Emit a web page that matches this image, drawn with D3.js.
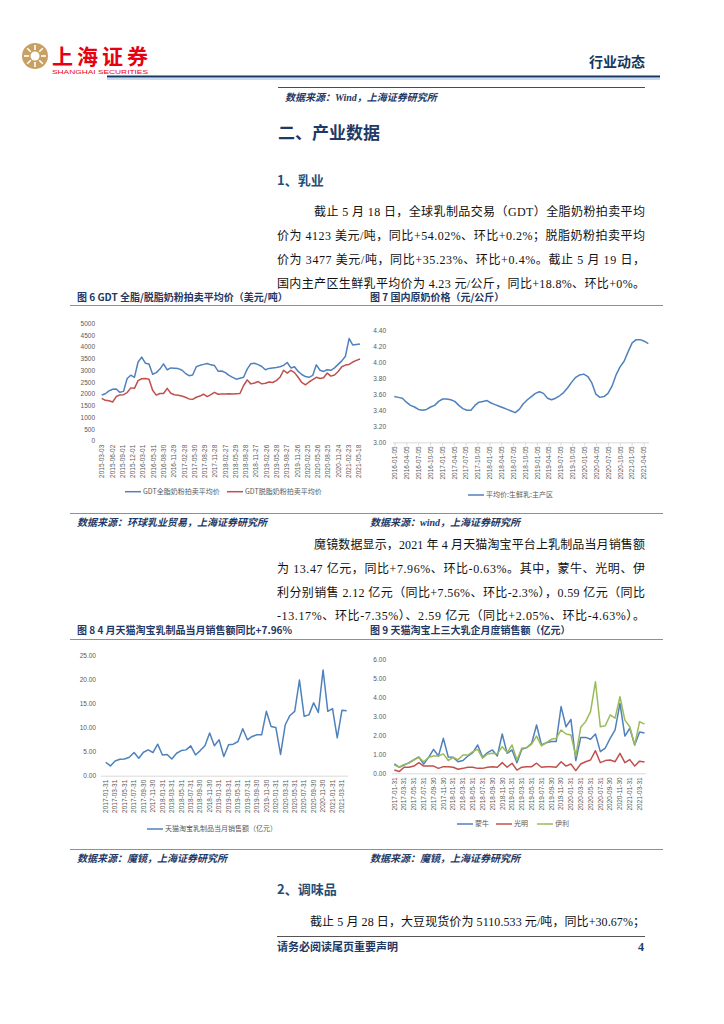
<!DOCTYPE html>
<html>
<head>
<meta charset="utf-8">
<script src="https://cdn.jsdelivr.net/npm/d3@7"></script>
<style>
  body { margin: 0; background: #fff; }
  svg { display: block; }
</style>
</head>
<body>
<script>
var width = 724;
var height = 1024;

// ---- data ----
var gdtLabels = ["2015-03-03", "2015-06-02", "2015-09-01", "2015-12-01", "2016-03-01", "2016-05-31",
    "2016-08-30", "2016-11-29", "2017-02-28", "2017-05-30", "2017-08-29", "2017-11-28", "2018-02-27",
    "2018-05-29", "2018-08-28", "2018-11-27", "2019-02-26", "2019-05-28", "2019-08-27", "2019-11-26",
    "2020-02-25", "2020-05-26", "2020-08-25", "2020-11-24", "2021-02-23", "2021-05-18"];
var gdtWhole = [1950, 2000, 2120, 2190, 2200, 2060, 2100, 2650, 2790, 2700, 3350, 3560, 3300, 3270, 2830,
    2900, 3050, 3270, 3020, 3100, 3090, 3070, 3010, 2870, 2770, 2800, 3150, 3210, 3250, 3290, 3230, 3200,
    2960, 2970, 2900, 2780, 2700, 2620, 2660, 2700, 3050, 3280, 3300, 3240, 3160, 3020, 3080, 3100, 3120,
    3150, 3210, 3330, 3100, 3150, 2950, 2820, 2730, 2700, 2780, 3230, 3000, 2950, 3020, 3000, 3100, 3250,
    3400, 3600, 4350, 4080, 4100, 4123];
var gdtSkim = [1800, 1720, 1700, 1650, 1880, 1950, 1960, 2050, 2250, 2230, 2560, 2640, 2650, 2620, 2150,
    1940, 2010, 2010, 2230, 2020, 1960, 1940, 1900, 1850, 1780, 1760, 1850, 1900, 1980, 1880, 1960, 2060,
    1980, 1990, 1990, 2000, 1990, 2000, 2010, 2350, 2590, 2420, 2460, 2520, 2420, 2450, 2500, 2480, 2560,
    2700, 3000, 2880, 3000, 2900, 2700, 2480, 2380, 2500, 2600, 2700, 2650, 2680, 2880, 2750, 2800, 2950,
    3150, 3220, 3250, 3350, 3420, 3477];

var milkLabels = ["2016-01-05", "2016-04-05", "2016-07-05", "2016-10-05", "2017-01-05", "2017-04-05",
    "2017-07-05", "2017-10-05", "2018-01-05", "2018-04-05", "2018-07-05", "2018-10-05", "2019-01-05",
    "2019-04-05", "2019-07-05", "2019-10-05", "2020-01-05", "2020-04-05", "2020-07-05", "2020-10-05",
    "2021-01-05", "2021-04-05"];
var milkPrice = [3.57, 3.56, 3.55, 3.50, 3.46, 3.44, 3.41, 3.40, 3.41, 3.44, 3.46, 3.51, 3.54, 3.54, 3.53,
    3.51, 3.46, 3.42, 3.40, 3.40, 3.46, 3.50, 3.51, 3.52, 3.49, 3.47, 3.45, 3.43, 3.41, 3.39, 3.37, 3.41,
    3.48, 3.53, 3.57, 3.61, 3.63, 3.61, 3.55, 3.53, 3.55, 3.58, 3.62, 3.68, 3.75, 3.81, 3.84, 3.85, 3.82,
    3.74, 3.60, 3.56, 3.57, 3.61, 3.70, 3.84, 3.94, 4.01, 4.13, 4.24, 4.28, 4.28, 4.26, 4.23];

var monthLabels = ["2017-01-31", "2017-03-31", "2017-05-31", "2017-07-31", "2017-09-30", "2017-11-30",
    "2018-01-31", "2018-03-31", "2018-05-31", "2018-07-31", "2018-09-30", "2018-11-30", "2019-01-31",
    "2019-03-31", "2019-05-31", "2019-07-31", "2019-09-30", "2019-11-30", "2020-01-31", "2020-03-31",
    "2020-05-31", "2020-07-31", "2020-09-30", "2020-11-30", "2021-01-31", "2021-03-31"];
var tmallTotal = [2.79, 2.02, 3.06, 3.40, 3.45, 3.83, 4.80, 3.62, 4.85, 5.35, 4.80, 6.53, 4.30, 4.40, 3.45,
    4.65, 5.20, 5.35, 6.19, 4.30, 5.20, 6.19, 8.83, 6.19, 7.44, 3.97, 6.40, 6.53, 7.08, 9.73, 7.44, 8.13,
    8.47, 8.47, 13.33, 10.20, 10.00, 4.40, 10.56, 12.48, 13.33, 19.80, 12.30, 12.60, 15.08, 13.10, 21.90,
    13.33, 13.90, 7.85, 13.56, 13.47];
var mengniu = [0.49, 0.32, 0.43, 0.56, 0.72, 0.86, 0.49, 0.84, 1.26, 0.91, 1.84, 0.86, 0.84, 0.61, 0.67,
    0.91, 1.09, 1.49, 0.84, 1.09, 1.23, 0.91, 2.07, 1.05, 1.23, 0.56, 1.26, 1.35, 1.58, 2.54, 1.49, 1.61,
    1.67, 1.67, 3.51, 2.45, 2.84, 0.67, 1.89, 1.89, 1.79, 2.07, 1.14, 1.33, 1.84, 2.28, 3.68, 1.96, 2.37,
    1.49, 2.17, 2.12];
var guangming = [0.17, 0.09, 0.32, 0.32, 0.38, 0.56, 0.38, 0.38, 0.38, 0.26, 0.35, 0.35, 0.32, 0.21, 0.26,
    0.32, 0.32, 0.26, 0.26, 0.32, 0.35, 0.32, 0.56, 0.32, 0.53, 0.17, 0.32, 0.35, 0.35, 0.53, 0.32, 0.35,
    0.35, 0.32, 0.61, 0.38, 0.49, 0.14, 0.49, 0.61, 0.70, 1.19, 0.56, 0.67, 0.70, 0.61, 1.05, 0.56, 0.72,
    0.38, 0.64, 0.59];
var yili = [0.44, 0.32, 0.47, 0.53, 0.70, 0.84, 0.61, 0.84, 0.91, 0.91, 1.02, 0.67, 0.84, 0.72, 0.96, 0.96,
    1.14, 1.26, 0.79, 1.02, 1.05, 1.02, 1.40, 1.09, 1.49, 0.70, 1.33, 1.35, 1.54, 1.96, 1.44, 1.61, 1.79,
    1.84, 2.28, 2.07, 2.02, 0.91, 2.42, 2.72, 3.25, 4.82, 2.45, 2.50, 3.07, 2.90, 4.03, 2.80, 2.45, 1.49,
    2.72, 2.59];

// ---- page ----
var navy = "#1F3864";
var sans = "'Noto Sans CJK SC', sans-serif";
var serif = "'Liberation Serif', 'Noto Sans CJK SC', serif";
var tickFont = "'Liberation Sans', 'Noto Sans CJK SC', sans-serif";

var svg = d3.select("body")
    .append("svg")
    .attr("width", width)
    .attr("height", height);

// logo
var logo = svg.append("g").attr("transform", "translate(35,56)");
logo.append("circle").attr("r", 13).attr("fill", "#C9A063");
logo.append("circle").attr("r", 4.5).attr("fill", "#fff");
d3.range(8).forEach(function (i) {
    var a = i * Math.PI / 4;
    logo.append("line")
        .attr("x1", Math.cos(a) * 6).attr("y1", Math.sin(a) * 6)
        .attr("x2", Math.cos(a) * 11).attr("y2", Math.sin(a) * 11)
        .attr("stroke", "#fff").attr("stroke-width", 1.6);
});
svg.append("text").attr("x", 52).attr("y", 64)
    .attr("font-family", sans).attr("font-weight", "bold").attr("font-size", 21)
    .attr("fill", "#E60012").attr("textLength", 96).text("上海证券");
svg.append("text").attr("x", 52).attr("y", 74)
    .attr("font-family", tickFont).attr("font-size", 6).attr("fill", "#E60012")
    .attr("textLength", 96).attr("lengthAdjust", "spacingAndGlyphs").text("SHANGHAI SECURITIES");

svg.append("text").attr("x", 645).attr("y", 67).attr("text-anchor", "end")
    .attr("font-family", sans).attr("font-size", 14).attr("font-weight", "bold")
    .attr("fill", "#17375E").text("行业动态");

svg.append("line").attr("x1", 107).attr("x2", 660).attr("y1", 76.5).attr("y2", 76.5)
    .attr("stroke", "#17375E").attr("stroke-width", 2);
svg.append("line").attr("x1", 107).attr("x2", 660).attr("y1", 79).attr("y2", 79)
    .attr("stroke", "#8DB3E2").attr("stroke-width", 1);
svg.append("line").attr("x1", 278).attr("x2", 645).attr("y1", 87.5).attr("y2", 87.5)
    .attr("stroke", "#FF0000").attr("stroke-width", 1);

function source(x, y, t) {
    svg.append("text").attr("x", x).attr("y", y)
        .attr("font-family", serif).attr("font-size", 10).attr("font-weight", "bold")
        .attr("font-style", "italic").attr("fill", navy).text(t);
}
source(285, 101, "数据来源：Wind，上海证券研究所");

svg.append("text").attr("x", 278).attr("y", 139)
    .attr("font-family", sans).attr("font-weight", "bold").attr("font-size", 17)
    .attr("fill", navy).text("二、产业数据");

function heading(y, t) {
    svg.append("text").attr("x", 277).attr("y", y)
        .attr("font-family", sans).attr("font-weight", "bold").attr("font-size", 13)
        .attr("fill", "#1F4E79").text(t);
}
heading(185, "1、乳业");
heading(894, "2、调味品");

function para(lines) {
    lines.forEach(function (l) {
        svg.append("text").attr("x", l[0]).attr("y", l[1])
            .attr("font-family", serif).attr("font-size", 12).attr("fill", "#111")
            .attr("textLength", 645 - l[0]).attr("lengthAdjust", "spacing")
            .text(l[2]);
    });
}
para([
    [314, 216, "截止 5 月 18 日，全球乳制品交易（GDT）全脂奶粉拍卖平均"],
    [277, 240, "价为 4123 美元/吨，同比+54.02%、环比+0.2%；脱脂奶粉拍卖平均"],
    [277, 264, "价为 3477 美元/吨，同比+35.23%、环比+0.4%。截止 5 月 19 日，"],
    [277, 287.5, "国内主产区生鲜乳平均价为 4.23 元/公斤，同比+18.8%、环比+0%。"]
]);
para([
    [314, 549, "魔镜数据显示，2021 年 4 月天猫淘宝平台上乳制品当月销售额"],
    [277, 573, "为 13.47 亿元，同比+7.96%、环比-0.63%。其中，蒙牛、光明、伊"],
    [277, 597, "利分别销售 2.12 亿元（同比+7.56%、环比-2.3%），0.59 亿元（同比"],
    [277, 620, "-13.17%、环比-7.35%）、2.59 亿元（同比+2.05%、环比-4.63%）。"]
]);
para([
    [310, 926, "截止 5 月 28 日，大豆现货价为 5110.533 元/吨，同比+30.67%；"]
]);

function title(x, y, t) {
    svg.append("text").attr("x", x).attr("y", y)
        .attr("font-family", sans).attr("font-size", 10).attr("font-weight", "bold")
        .attr("fill", navy).text(t);
}
function redRule(y) {
    svg.append("line").attr("x1", 70).attr("x2", 663).attr("y1", y).attr("y2", y)
        .attr("stroke", "#E46C6C").attr("stroke-width", 1);
}
title(77, 300.5, "图 6 GDT 全脂/脱脂奶粉拍卖平均价（美元/吨）");
title(370, 300.5, "图 7 国内原奶价格（元/公斤）");
redRule(305.5);
redRule(513.5);
source(77, 526, "数据来源：环球乳业贸易，上海证券研究所");
source(370, 526, "数据来源：wind，上海证券研究所");

title(77, 634, "图 8 4 月天猫淘宝乳制品当月销售额同比+7.96%");
title(370, 634, "图 9 天猫淘宝上三大乳企月度销售额（亿元）");
redRule(639.5);
redRule(849.5);
source(77, 862, "数据来源：魔镜，上海证券研究所");
source(370, 862, "数据来源：魔镜，上海证券研究所");

// footer
svg.append("line").attr("x1", 277).attr("x2", 645).attr("y1", 936.5).attr("y2", 936.5)
    .attr("stroke", "#555").attr("stroke-width", 1);
svg.append("text").attr("x", 277).attr("y", 951)
    .attr("font-family", sans).attr("font-size", 11).attr("font-weight", "bold")
    .attr("fill", navy).text("请务必阅读尾页重要声明");
svg.append("text").attr("x", 644).attr("y", 951).attr("text-anchor", "end")
    .attr("font-family", serif).attr("font-size", 12).attr("font-weight", "bold")
    .attr("fill", navy).text("4");

// ---- charts ----
function drawChart(c) {
    var g = svg.append("g");
    var n = c.series[0].values.length;
    var x = d3.scaleLinear().domain([0, n - 1]).range(c.xRange);
    var y = d3.scaleLinear().domain(c.yDomain).range(c.yRange);

    var yAxis = d3.axisLeft(y).tickValues(c.yTicks).tickFormat(d3.format(c.yFmt))
        .tickSize(0).tickPadding(0);
    g.append("g").attr("transform", "translate(" + c.labelRight + ",0)")
        .call(yAxis)
        .call(function (a) {
            a.select(".domain").remove();
            a.selectAll("text").attr("font-family", tickFont).attr("font-size", 6.5)
                .attr("fill", "#595959");
        });

    if (c.axisLine) {
        g.append("line").attr("x1", c.axisLine[0]).attr("x2", c.axisLine[1])
            .attr("y1", y(c.yDomain[0]) + 0.5).attr("y2", y(c.yDomain[0]) + 0.5)
            .attr("stroke", "#D9D9D9").attr("stroke-width", 1);
    }

    var xl = d3.scalePoint().domain(c.xLabels).range(c.labelRange);
    var labs = g.selectAll(".xl").data(c.xLabels).enter().append("g")
        .attr("transform", function (d) {
            return "translate(" + xl(d) + "," + (y(c.yDomain[0]) + 4) + ")";
        });
    if (c.ticks) {
        labs.append("line").attr("y1", -3.5).attr("y2", -1).attr("stroke", "#D9D9D9");
    }
    labs.append("text")
        .attr("transform", "rotate(-90)")
        .attr("text-anchor", "end")
        .attr("dy", "0.35em")
        .attr("font-family", tickFont).attr("font-size", 6.5).attr("fill", "#595959")
        .text(function (d) { return d; });

    var line = d3.line()
        .x(function (d, i) { return x(i); })
        .y(function (d) { return y(d); });
    c.series.forEach(function (s) {
        g.append("path").datum(s.values)
            .attr("fill", "none")
            .attr("stroke", s.color)
            .attr("stroke-width", 1.5)
            .attr("stroke-linejoin", "round")
            .attr("d", line);
    });

    c.legend.forEach(function (l) {
        g.append("line").attr("x1", l.x).attr("x2", l.x + 16)
            .attr("y1", c.legendY).attr("y2", c.legendY)
            .attr("stroke", l.color).attr("stroke-width", 1.5);
        g.append("text").attr("x", l.x + 18).attr("y", c.legendY).attr("dy", "0.35em")
            .attr("font-family", sans).attr("font-size", 7).attr("fill", "#595959")
            .text(l.text);
    });
}

var blue = "#4F81BD", red = "#C0504D", green = "#9BBB59";

drawChart({
    xRange: [101.7, 360],
    yDomain: [0, 5000], yRange: [440.7, 323.3],
    yTicks: d3.range(0, 5001, 500), yFmt: "d", labelRight: 95,
    xLabels: gdtLabels, labelRange: [102, 359],
    series: [{ values: gdtWhole, color: blue }, { values: gdtSkim, color: red }],
    legendY: 491.7,
    legend: [{ x: 125, color: blue, text: "GDT全脂奶粉拍卖平均价" },
             { x: 227, color: red, text: "GDT脱脂奶粉拍卖平均价" }]
});

drawChart({
    xRange: [394.3, 648.3],
    yDomain: [3.0, 4.4], yRange: [442.3, 330],
    yTicks: [3.0, 3.2, 3.4, 3.6, 3.8, 4.0, 4.2, 4.4], yFmt: ".2f", labelRight: 386,
    axisLine: [393, 649], ticks: true,
    xLabels: milkLabels, labelRange: [395, 644],
    series: [{ values: milkPrice, color: blue }],
    legendY: 495,
    legend: [{ x: 468, color: blue, text: "平均价:生鲜乳:主产区" }]
});

drawChart({
    xRange: [105.7, 346.7],
    yDomain: [0, 25], yRange: [775.7, 655],
    yTicks: [0, 5, 10, 15, 20, 25], yFmt: ".2f", labelRight: 96,
    axisLine: [100.7, 348],
    xLabels: monthLabels, labelRange: [105.7, 105.7 + (346.7 - 105.7) * 50 / 51],
    series: [{ values: tmallTotal, color: blue }],
    legendY: 829,
    legend: [{ x: 147, color: blue, text: "天猫淘宝乳制品当月销售额（亿元）" }]
});

drawChart({
    xRange: [394.3, 644.5],
    yDomain: [0, 6], yRange: [773.3, 659.3],
    yTicks: [0, 1, 2, 3, 4, 5, 6], yFmt: ".2f", labelRight: 386,
    axisLine: [391.7, 645.7],
    xLabels: monthLabels, labelRange: [394.3, 394.3 + (644.5 - 394.3) * 50 / 51],
    series: [{ values: mengniu, color: blue }, { values: guangming, color: red }, { values: yili, color: green }],
    legendY: 824,
    legend: [{ x: 457, color: blue, text: "蒙牛" },
             { x: 496, color: red, text: "光明" },
             { x: 537, color: green, text: "伊利" }]
});
</script>
</body>
</html>
